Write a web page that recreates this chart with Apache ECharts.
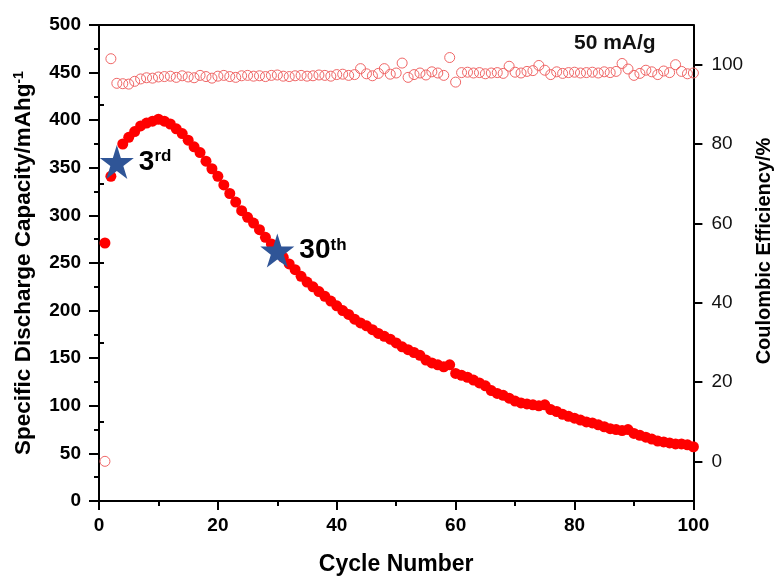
<!DOCTYPE html>
<html>
<head>
<meta charset="utf-8">
<script src="https://cdn.jsdelivr.net/npm/echarts@6/dist/echarts.min.js"></script>
<style>
  html, body { margin: 0; padding: 0; background: #fff; overflow: hidden; }
  #chart { width: 782px; height: 581px; }
</style>
</head>
<body>
<div id="chart"></div>
<script>
// Cycle index shared by both series
const cycles = [
  1, 2, 3, 4, 5, 6, 7, 8, 9, 10, 11, 12, 13, 14, 15, 16, 17, 18, 19, 20,
  21, 22, 23, 24, 25, 26, 27, 28, 29, 30, 31, 32, 33, 34, 35, 36, 37, 38, 39, 40,
  41, 42, 43, 44, 45, 46, 47, 48, 49, 50, 51, 52, 53, 54, 55, 56, 57, 58, 59, 60,
  61, 62, 63, 64, 65, 66, 67, 68, 69, 70, 71, 72, 73, 74, 75, 76, 77, 78, 79, 80,
  81, 82, 83, 84, 85, 86, 87, 88, 89, 90, 91, 92, 93, 94, 95, 96, 97, 98, 99, 100
];

// Specific discharge capacity, mAh/g
const capacity = [
  271, 341, 356, 375, 382, 388, 394, 397, 399, 401,
  399, 396, 391, 386, 379, 372, 366, 357, 349, 341,
  332, 323, 314, 305, 298, 292, 285, 277, 270, 263,
  256, 249, 243, 236, 230, 225, 220, 215, 210, 205,
  200, 196, 191, 187, 184, 180, 176, 173, 170, 166,
  162, 159, 156, 153, 148, 145, 143, 141, 143, 134,
  132, 130, 127, 124, 121, 116, 113, 111, 108, 105,
  103, 102, 101, 100, 101, 96, 94, 91, 89, 87,
  85, 83, 82, 80, 78, 76, 75, 74, 75, 71,
  69, 67, 65, 63, 62, 61, 60, 60, 59, 57
];

// Coulombic efficiency, %
const efficiency = [
  0, 101.5, 95.3, 95.2, 95.1, 95.8, 96.4, 96.7, 96.6, 96.9,
  97.0, 97.1, 96.8, 97.2, 96.9, 96.7, 97.3, 97.0, 96.6, 97.1,
  97.3, 97.0, 96.8, 97.2, 97.3, 97.1, 97.2, 97.0, 97.3, 97.4,
  97.1, 97.0, 97.2, 97.3, 97.1, 97.2, 97.4, 97.3, 97.1, 97.5,
  97.6, 97.3, 97.5, 99.0, 97.7, 97.2, 97.8, 99.0, 97.6, 97.9,
  100.4, 96.8, 97.5, 97.9, 97.4, 98.2, 97.9, 97.3, 101.8, 95.6,
  98.0, 98.1, 97.9, 98.0, 97.7, 97.9, 98.0, 97.8, 99.6, 98.1,
  97.9, 98.3, 98.5, 99.8, 98.6, 97.5, 98.2, 97.8, 98.0, 98.1,
  97.9, 98.0, 98.1, 97.9, 98.2, 98.0, 98.3, 100.3, 98.9, 97.3,
  97.8, 98.6, 98.2, 97.5, 98.4, 98.0, 100.0, 98.3, 97.7, 97.9
];

// Highlighted cycles and their annotations
const markedCycles = [3, 30];
const markedOrdinals = ['rd', 'th'];

// Axis tick values
const capacityTicks = [0, 50, 100, 150, 200, 250, 300, 350, 400, 450, 500];
const efficiencyMajorTicks = [0, 20, 40, 60, 80, 100];
const efficiencyMinorTicks = [10, 30, 50, 70, 90];
const cycleTicks = [0, 20, 40, 60, 80, 100];

const FONT = 'Arial, "Liberation Sans", sans-serif';
const STAR = 'path://M50,0 L61.2,34.5 L97.6,34.5 L68.2,55.9 L79.4,90.5 L50,69.1 L20.6,90.5 L31.8,55.9 L2.4,34.5 L38.8,34.5 Z';

const axisLineStyle = { color: '#000', width: 2 };

const capacityData = cycles.map((c, i) => [c, capacity[i]]);
const efficiencyData = cycles.map((c, i) => [c, efficiency[i]]);
const starData = markedCycles.map((c, i) => ({
  value: [c, capacity[cycles.indexOf(c)]],
  label: { formatter: '{n|' + c + '}{s|' + markedOrdinals[i] + '}' }
}));

const chart = echarts.init(document.getElementById('chart'), null, { renderer: 'canvas' });

chart.setOption({
  backgroundColor: '#fff',
  animation: false,
  textStyle: { fontFamily: FONT },
  grid: { left: 99, right: 83, top: 25, bottom: 76, containLabel: false },
  xAxis: [
    {
      type: 'value',
      position: 'bottom',
      min: cycleTicks[0],
      max: cycleTicks[cycleTicks.length - 1],
      interval: 20,
      axisLine: { show: true, onZero: false, lineStyle: axisLineStyle },
      axisTick: { show: true, length: 9, lineStyle: axisLineStyle },
      minorTick: { show: true, splitNumber: 2, length: 5, lineStyle: axisLineStyle },
      splitLine: { show: false },
      axisLabel: { fontSize: 19, fontWeight: 'bold', color: '#000', margin: 15, fontFamily: FONT },
      name: 'Cycle Number',
      nameLocation: 'middle',
      nameGap: 52,
      nameTextStyle: { fontSize: 23, fontWeight: 'bold', color: '#000', fontFamily: FONT }
    },
    {
      type: 'value',
      position: 'top',
      min: 0,
      max: 100,
      axisLine: { show: true, onZero: false, lineStyle: axisLineStyle },
      axisTick: { show: false },
      axisLabel: { show: false },
      splitLine: { show: false }
    }
  ],
  yAxis: [
    {
      type: 'value',
      position: 'left',
      min: capacityTicks[0],
      max: capacityTicks[capacityTicks.length - 1],
      interval: 50,
      axisLine: { show: true, onZero: false, lineStyle: axisLineStyle },
      axisTick: { show: true, length: 10, lineStyle: axisLineStyle },
      minorTick: { show: true, splitNumber: 2, length: 5, lineStyle: axisLineStyle },
      splitLine: { show: false },
      axisLabel: { fontSize: 19, fontWeight: 'bold', color: '#000', margin: 18, fontFamily: FONT },
      name: '{a|Specific Discharge Capacity/mAhg}{s|-1}',
      nameLocation: 'middle',
      nameGap: 64,
      nameRotate: 90,
      nameTextStyle: {
        rich: {
          a: { fontSize: 22.5, fontWeight: 'bold', color: '#000', fontFamily: FONT },
          s: { fontSize: 14, fontWeight: 'bold', color: '#000', fontFamily: FONT, verticalAlign: 'top' }
        }
      }
    },
    {
      type: 'value',
      position: 'right',
      offset: 0,
      min: -10,
      max: 110,
      axisLine: { show: true, onZero: false, lineStyle: axisLineStyle },
      axisTick: { show: true, length: 9, lineStyle: axisLineStyle, customValues: efficiencyMajorTicks },
      splitLine: { show: false },
      axisLabel: { fontSize: 19, color: '#111', margin: 18, fontFamily: FONT, customValues: efficiencyMajorTicks },
      name: 'Coulombic Efficiency/%',
      nameLocation: 'middle',
      nameGap: 58,
      nameRotate: 90,
      nameTextStyle: { fontSize: 20, fontWeight: 'bold', color: '#000', fontFamily: FONT, padding: [0, 0, 0, 24] }
    },
    {
      type: 'value',
      position: 'right',
      offset: 0,
      min: -10,
      max: 110,
      axisLine: { show: false },
      axisTick: { show: true, length: 5, lineStyle: axisLineStyle, customValues: efficiencyMinorTicks },
      axisLabel: { show: false },
      splitLine: { show: false }
    }
  ],
  graphic: [
    {
      type: 'text',
      left: 574,
      top: 33,
      style: { text: '50 mA/g', fontSize: 21, fontWeight: 'bold', fill: '#111', fontFamily: FONT }
    }
  ],
  series: [
    {
      name: 'Discharge capacity',
      type: 'scatter',
      xAxisIndex: 0,
      yAxisIndex: 0,
      symbol: 'circle',
      symbolSize: 11,
      itemStyle: { color: '#ff0000', opacity: 1 },
      data: capacityData,
      z: 2
    },
    {
      name: 'Coulombic efficiency',
      type: 'scatter',
      xAxisIndex: 0,
      yAxisIndex: 1,
      symbol: 'circle',
      symbolSize: 10,
      itemStyle: { color: 'rgba(255,255,255,0)', borderColor: '#f06666', borderWidth: 1, opacity: 1 },
      data: efficiencyData,
      z: 3
    },
    {
      name: 'Marked cycles',
      type: 'scatter',
      xAxisIndex: 0,
      yAxisIndex: 0,
      symbol: STAR,
      symbolSize: 34,
      itemStyle: { color: '#2f5597', opacity: 1 },
      label: {
        show: true,
        position: 'right',
        distance: 5,
        rich: {
          n: { fontSize: 28, fontWeight: 'bold', color: '#000', fontFamily: FONT },
          s: { fontSize: 17, fontWeight: 'bold', color: '#000', fontFamily: FONT, verticalAlign: 'top' }
        }
      },
      data: starData,
      z: 4
    }
  ]
});
</script>
</body>
</html>
